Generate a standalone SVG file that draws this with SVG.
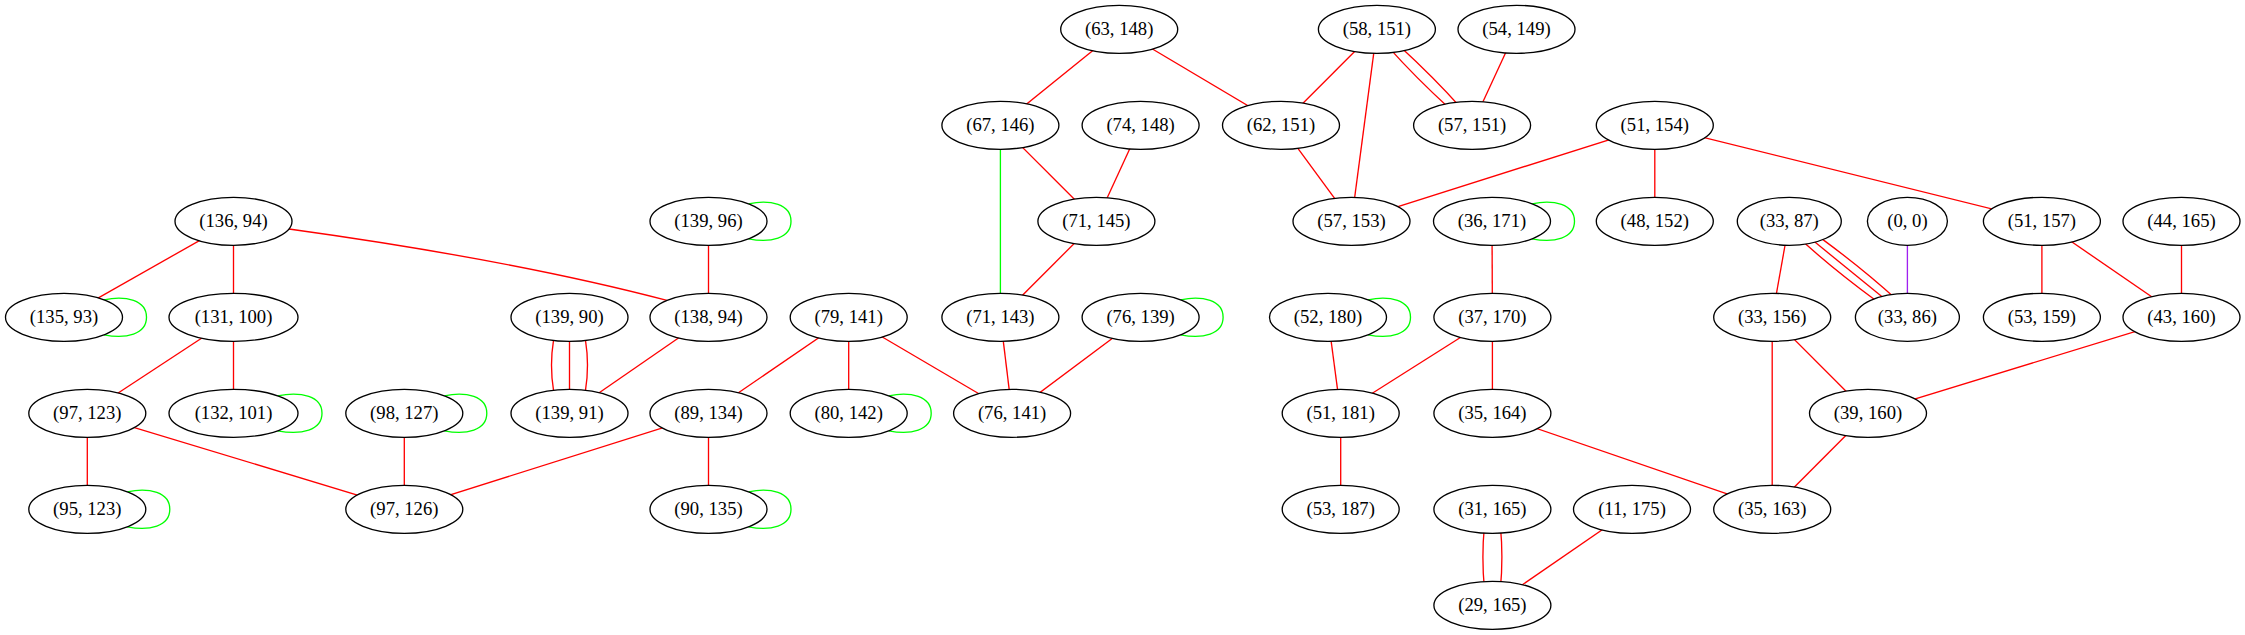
<svg xmlns="http://www.w3.org/2000/svg" width="2245" height="635" viewBox="0 0 2245 635">
<style>
.node ellipse{fill:#ffffff;stroke:#000000;stroke-width:1.33}
.node text{font-family:"Liberation Serif","Times New Roman",serif;font-size:18.67px;text-anchor:middle;fill:#000000}
#edges path,#edges use{fill:none;stroke-width:1.33}
.r{stroke:#ff0000}
.g{stroke:#00ff00}
.p{stroke:#a020f0}
</style>
<defs>
<path id="loop" d="M40,-17.5 C62,-22 82.5,-17 82.5,0 C82.5,17 62,22 40,17.5"/>
<path id="loopw" d="M44,-17.5 C68,-22 88.5,-17 88.5,0 C88.5,17 68,22 44,17.5"/>
</defs>
<rect x="0" y="0" width="2245" height="635" fill="#ffffff"/>
<g id="edges">
<path class="r" d="M1119.2,29.3 L1000.4,125.3"/>
<path class="r" d="M1119.2,29.3 L1281,125.3"/>
<path class="r" d="M1376.9,29.3 L1281,125.3"/>
<path class="r" d="M1376.9,29.3 L1351.5,221.3"/>
<path class="r" d="M1388,46.6 Q1415.5,77.3 1449,108"/>
<path class="r" d="M1400,46.6 Q1433.5,77.3 1461,108"/>
<path class="r" d="M1516.5,29.3 L1472.1,125.3"/>
<path class="r" d="M1000.4,125.3 L1096.4,221.3"/>
<path class="g" d="M1000.4,125.3 L1000.4,317.3"/>
<path class="r" d="M1140.6,125.3 L1096.4,221.3"/>
<path class="r" d="M1281,125.3 L1351.5,221.3"/>
<path class="r" d="M1654.8,125.3 L1351.5,221.3"/>
<path class="r" d="M1654.8,125.3 L1654.8,221.3"/>
<path class="r" d="M1654.8,125.3 L2041.9,221.3"/>
<path class="r" d="M233.5,221.3 L64,317.3"/>
<path class="r" d="M233.5,221.3 L233.5,317.3"/>
<path class="r" d="M289,229 Q513,260 667,300.4"/>
<path class="r" d="M708.5,221.3 L708.5,317.3"/>
<path class="r" d="M1096.4,221.3 L1000.4,317.3"/>
<path class="r" d="M1492,221.3 L1492.4,317.3"/>
<path class="r" d="M1789.3,221.3 L1772.2,317.3"/>
<path class="r" d="M1799.6,238.6 Q1833.35,269.3 1875.1,300"/>
<path class="r" d="M1810.6,238.6 L1886.1,300"/>
<path class="r" d="M1821.6,238.6 Q1863.35,269.3 1897.1,300"/>
<path class="p" d="M1907.4,221.3 L1907.4,317.3"/>
<path class="r" d="M2041.9,221.3 L2041.9,317.3"/>
<path class="r" d="M2041.9,221.3 L2181.5,317.3"/>
<path class="r" d="M2181.5,221.3 L2181.5,317.3"/>
<path class="r" d="M233.5,317.3 L87.3,413.3"/>
<path class="r" d="M233.5,317.3 L233.5,413.3"/>
<path class="r" d="M553.5,340.4 Q549.5,365.3 553.5,390.2"/>
<path class="r" d="M569.5,340 L569.5,390.6"/>
<path class="r" d="M585.5,340.4 Q589.5,365.3 585.5,390.2"/>
<path class="r" d="M708.5,317.3 L569.5,413.3"/>
<path class="r" d="M848.7,317.3 L708.5,413.3"/>
<path class="r" d="M848.7,317.3 L848.7,413.3"/>
<path class="r" d="M848.7,317.3 L1012.1,413.3"/>
<path class="r" d="M1000.4,317.3 L1012.1,413.3"/>
<path class="r" d="M1140.6,317.3 L1012.1,413.3"/>
<path class="r" d="M1328,317.3 L1340.7,413.3"/>
<path class="r" d="M1492.4,317.3 L1340.7,413.3"/>
<path class="r" d="M1492.4,317.3 L1492.4,413.3"/>
<path class="r" d="M1772.2,317.3 L1868,413.3"/>
<path class="r" d="M1772.2,317.3 L1772.2,509.3"/>
<path class="r" d="M2181.5,317.3 L1868,413.3"/>
<path class="r" d="M87.3,413.3 L87.3,509.3"/>
<path class="r" d="M87.3,413.3 L404.3,509.3"/>
<path class="r" d="M404.3,413.3 L404.3,509.3"/>
<path class="r" d="M708.5,413.3 L404.3,509.3"/>
<path class="r" d="M708.5,413.3 L708.5,509.3"/>
<path class="r" d="M1340.7,413.3 L1340.7,509.3"/>
<path class="r" d="M1484.4,526 Q1481.4,557.3 1484.4,588.6"/>
<path class="r" d="M1500.4,526 Q1503.4,557.3 1500.4,588.6"/>
<path class="r" d="M1492.4,413.3 L1772.2,509.3"/>
<path class="r" d="M1868,413.3 L1772.2,509.3"/>
<path class="r" d="M1632,509.3 L1492.4,605.3"/>
<use href="#loop" class="g" transform="translate(708.5,221.3)"/>
<use href="#loop" class="g" transform="translate(1492,221.3)"/>
<use href="#loop" class="g" transform="translate(64,317.3)"/>
<use href="#loop" class="g" transform="translate(1140.6,317.3)"/>
<use href="#loop" class="g" transform="translate(1328,317.3)"/>
<use href="#loopw" class="g" transform="translate(233.5,413.3)"/>
<use href="#loop" class="g" transform="translate(404.3,413.3)"/>
<use href="#loop" class="g" transform="translate(848.7,413.3)"/>
<use href="#loop" class="g" transform="translate(87.3,509.3)"/>
<use href="#loop" class="g" transform="translate(708.5,509.3)"/>
</g>
<g id="n_63_148" class="node"><ellipse cx="1119.2" cy="29.3" rx="58.5" ry="24"/><text x="1119.2" y="35.3">(63, 148)</text></g>
<g id="n_58_151" class="node"><ellipse cx="1376.9" cy="29.3" rx="58.5" ry="24"/><text x="1376.9" y="35.3">(58, 151)</text></g>
<g id="n_54_149" class="node"><ellipse cx="1516.5" cy="29.3" rx="58.5" ry="24"/><text x="1516.5" y="35.3">(54, 149)</text></g>
<g id="n_67_146" class="node"><ellipse cx="1000.4" cy="125.3" rx="58.5" ry="24"/><text x="1000.4" y="131.3">(67, 146)</text></g>
<g id="n_74_148" class="node"><ellipse cx="1140.6" cy="125.3" rx="58.5" ry="24"/><text x="1140.6" y="131.3">(74, 148)</text></g>
<g id="n_62_151" class="node"><ellipse cx="1281" cy="125.3" rx="58.5" ry="24"/><text x="1281" y="131.3">(62, 151)</text></g>
<g id="n_57_151" class="node"><ellipse cx="1472.1" cy="125.3" rx="58.5" ry="24"/><text x="1472.1" y="131.3">(57, 151)</text></g>
<g id="n_51_154" class="node"><ellipse cx="1654.8" cy="125.3" rx="58.5" ry="24"/><text x="1654.8" y="131.3">(51, 154)</text></g>
<g id="n_136_94" class="node"><ellipse cx="233.5" cy="221.3" rx="58.5" ry="24"/><text x="233.5" y="227.3">(136, 94)</text></g>
<g id="n_139_96" class="node"><ellipse cx="708.5" cy="221.3" rx="58.5" ry="24"/><text x="708.5" y="227.3">(139, 96)</text></g>
<g id="n_71_145" class="node"><ellipse cx="1096.4" cy="221.3" rx="58.5" ry="24"/><text x="1096.4" y="227.3">(71, 145)</text></g>
<g id="n_57_153" class="node"><ellipse cx="1351.5" cy="221.3" rx="58.5" ry="24"/><text x="1351.5" y="227.3">(57, 153)</text></g>
<g id="n_36_171" class="node"><ellipse cx="1492" cy="221.3" rx="58.5" ry="24"/><text x="1492" y="227.3">(36, 171)</text></g>
<g id="n_48_152" class="node"><ellipse cx="1654.8" cy="221.3" rx="58.5" ry="24"/><text x="1654.8" y="227.3">(48, 152)</text></g>
<g id="n_33_87" class="node"><ellipse cx="1789.3" cy="221.3" rx="52" ry="24"/><text x="1789.3" y="227.3">(33, 87)</text></g>
<g id="n_0_0" class="node"><ellipse cx="1907.4" cy="221.3" rx="40" ry="24"/><text x="1907.4" y="227.3">(0, 0)</text></g>
<g id="n_51_157" class="node"><ellipse cx="2041.9" cy="221.3" rx="58.5" ry="24"/><text x="2041.9" y="227.3">(51, 157)</text></g>
<g id="n_44_165" class="node"><ellipse cx="2181.5" cy="221.3" rx="58.5" ry="24"/><text x="2181.5" y="227.3">(44, 165)</text></g>
<g id="n_135_93" class="node"><ellipse cx="64" cy="317.3" rx="58.5" ry="24"/><text x="64" y="323.3">(135, 93)</text></g>
<g id="n_131_100" class="node"><ellipse cx="233.5" cy="317.3" rx="64.5" ry="24"/><text x="233.5" y="323.3">(131, 100)</text></g>
<g id="n_139_90" class="node"><ellipse cx="569.5" cy="317.3" rx="58.5" ry="24"/><text x="569.5" y="323.3">(139, 90)</text></g>
<g id="n_138_94" class="node"><ellipse cx="708.5" cy="317.3" rx="58.5" ry="24"/><text x="708.5" y="323.3">(138, 94)</text></g>
<g id="n_79_141" class="node"><ellipse cx="848.7" cy="317.3" rx="58.5" ry="24"/><text x="848.7" y="323.3">(79, 141)</text></g>
<g id="n_71_143" class="node"><ellipse cx="1000.4" cy="317.3" rx="58.5" ry="24"/><text x="1000.4" y="323.3">(71, 143)</text></g>
<g id="n_76_139" class="node"><ellipse cx="1140.6" cy="317.3" rx="58.5" ry="24"/><text x="1140.6" y="323.3">(76, 139)</text></g>
<g id="n_52_180" class="node"><ellipse cx="1328" cy="317.3" rx="58.5" ry="24"/><text x="1328" y="323.3">(52, 180)</text></g>
<g id="n_37_170" class="node"><ellipse cx="1492.4" cy="317.3" rx="58.5" ry="24"/><text x="1492.4" y="323.3">(37, 170)</text></g>
<g id="n_33_156" class="node"><ellipse cx="1772.2" cy="317.3" rx="58.5" ry="24"/><text x="1772.2" y="323.3">(33, 156)</text></g>
<g id="n_33_86" class="node"><ellipse cx="1907.4" cy="317.3" rx="52" ry="24"/><text x="1907.4" y="323.3">(33, 86)</text></g>
<g id="n_53_159" class="node"><ellipse cx="2041.9" cy="317.3" rx="58.5" ry="24"/><text x="2041.9" y="323.3">(53, 159)</text></g>
<g id="n_43_160" class="node"><ellipse cx="2181.5" cy="317.3" rx="58.5" ry="24"/><text x="2181.5" y="323.3">(43, 160)</text></g>
<g id="n_97_123" class="node"><ellipse cx="87.3" cy="413.3" rx="58.5" ry="24"/><text x="87.3" y="419.3">(97, 123)</text></g>
<g id="n_132_101" class="node"><ellipse cx="233.5" cy="413.3" rx="64.5" ry="24"/><text x="233.5" y="419.3">(132, 101)</text></g>
<g id="n_98_127" class="node"><ellipse cx="404.3" cy="413.3" rx="58.5" ry="24"/><text x="404.3" y="419.3">(98, 127)</text></g>
<g id="n_139_91" class="node"><ellipse cx="569.5" cy="413.3" rx="58.5" ry="24"/><text x="569.5" y="419.3">(139, 91)</text></g>
<g id="n_89_134" class="node"><ellipse cx="708.5" cy="413.3" rx="58.5" ry="24"/><text x="708.5" y="419.3">(89, 134)</text></g>
<g id="n_80_142" class="node"><ellipse cx="848.7" cy="413.3" rx="58.5" ry="24"/><text x="848.7" y="419.3">(80, 142)</text></g>
<g id="n_76_141" class="node"><ellipse cx="1012.1" cy="413.3" rx="58.5" ry="24"/><text x="1012.1" y="419.3">(76, 141)</text></g>
<g id="n_51_181" class="node"><ellipse cx="1340.7" cy="413.3" rx="58.5" ry="24"/><text x="1340.7" y="419.3">(51, 181)</text></g>
<g id="n_35_164" class="node"><ellipse cx="1492.4" cy="413.3" rx="58.5" ry="24"/><text x="1492.4" y="419.3">(35, 164)</text></g>
<g id="n_39_160" class="node"><ellipse cx="1868" cy="413.3" rx="58.5" ry="24"/><text x="1868" y="419.3">(39, 160)</text></g>
<g id="n_95_123" class="node"><ellipse cx="87.3" cy="509.3" rx="58.5" ry="24"/><text x="87.3" y="515.3">(95, 123)</text></g>
<g id="n_97_126" class="node"><ellipse cx="404.3" cy="509.3" rx="58.5" ry="24"/><text x="404.3" y="515.3">(97, 126)</text></g>
<g id="n_90_135" class="node"><ellipse cx="708.5" cy="509.3" rx="58.5" ry="24"/><text x="708.5" y="515.3">(90, 135)</text></g>
<g id="n_53_187" class="node"><ellipse cx="1340.7" cy="509.3" rx="58.5" ry="24"/><text x="1340.7" y="515.3">(53, 187)</text></g>
<g id="n_31_165" class="node"><ellipse cx="1492.4" cy="509.3" rx="58.5" ry="24"/><text x="1492.4" y="515.3">(31, 165)</text></g>
<g id="n_11_175" class="node"><ellipse cx="1632" cy="509.3" rx="58.5" ry="24"/><text x="1632" y="515.3">(11, 175)</text></g>
<g id="n_35_163" class="node"><ellipse cx="1772.2" cy="509.3" rx="58.5" ry="24"/><text x="1772.2" y="515.3">(35, 163)</text></g>
<g id="n_29_165" class="node"><ellipse cx="1492.4" cy="605.3" rx="58.5" ry="24"/><text x="1492.4" y="611.3">(29, 165)</text></g>
</svg>
